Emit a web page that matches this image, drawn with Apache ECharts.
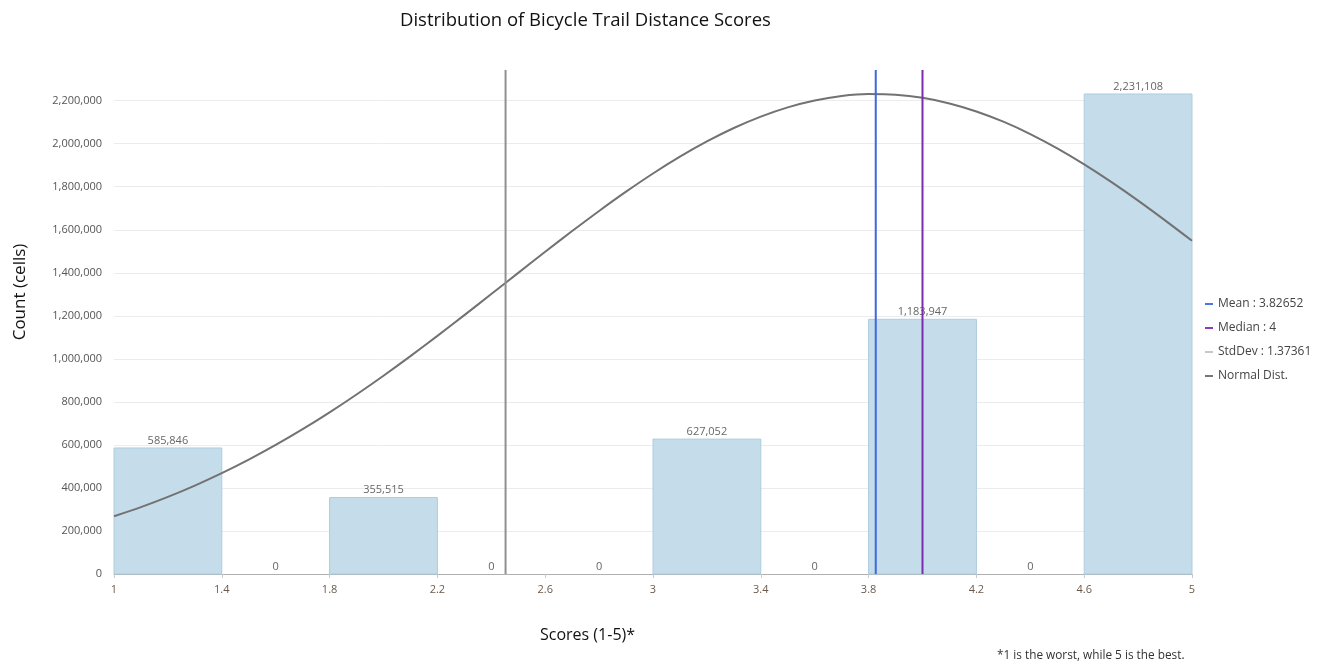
<!DOCTYPE html>
<html><head><meta charset="utf-8">
<script src="https://cdn.jsdelivr.net/npm/echarts@6/dist/echarts.min.js"></script>
<style>html,body{margin:0;padding:0;background:#fff}#c{width:1319px;height:664px}</style>
</head><body><div id="c"></div>
<script>
// Histogram bins (score ranges) and counts
const binStarts = [1.0, 1.4, 1.8, 2.2, 2.6, 3.0, 3.4, 3.8, 4.2, 4.6];
const binEnds   = [1.4, 1.8, 2.2, 2.6, 3.0, 3.4, 3.8, 4.2, 4.6, 5.0];
const counts    = [585846, 0, 355515, 0, 0, 627052, 0, 1183947, 0, 2231108];
// Summary statistics
const meanValue = 3.82652;
const medianValue = 4;
const stdDevValue = 1.37361;
const stdDevLineAt = 2.45291; // mean - stdDev, where the gray line is drawn
// Normal distribution curve
const curveX = [1.0, 1.1, 1.2, 1.3, 1.4, 1.5, 1.6, 1.7, 1.8, 1.9, 2.0, 2.1, 2.2, 2.3, 2.4, 2.5, 2.6, 2.7, 2.8, 2.9, 3.0,
                3.1, 3.2, 3.3, 3.4, 3.5, 3.6, 3.7, 3.8, 3.9, 4.0, 4.1, 4.2, 4.3, 4.4, 4.5, 4.6, 4.7, 4.8, 4.9, 5.0];
const curveY = [268600, 311100, 358600, 411100, 468700, 531600, 599800, 673100, 751400, 834400, 921700, 1012700, 1106800,
                1203300, 1301200, 1399600, 1497600, 1594000, 1687500, 1777100, 1861700, 1939900, 2010700, 2073100, 2126100,
                2169000, 2201000, 2221700, 2230700, 2227900, 2213400, 2187300, 2150100, 2102400, 2044900, 1978400, 1904000,
                1822700, 1735600, 1643900, 1548900];
// Axis ticks
const xTicks = ['1', '1.4', '1.8', '2.2', '2.6', '3', '3.4', '3.8', '4.2', '4.6', '5'];
const yMax = 2342663;

const X0 = 1, STEP = 0.4;
const toAx = s => (s - X0) / STEP;
const fmt = v => v.toLocaleString('en-US');
const FONT = '"Open Sans", "Noto Sans", sans-serif';

const chart = echarts.init(document.getElementById('c'), null, {renderer: 'canvas'});

const histData = binStarts.map((s, i) => [toAx(s), toAx(binEnds[i]), counts[i]]);
const vline = x => [[toAx(x), 0], [toAx(x), yMax]];

chart.setOption({
  animation: false,
  textStyle: {fontFamily: FONT},
  title: {
    text: 'Distribution of Bicycle Trail Distance Scores',
    left: 395, top: 6,
    textStyle: {fontSize: 18.5, fontWeight: 'normal', color: '#111', fontFamily: FONT}
  },
  grid: {left: 114, right: 127, top: 70, bottom: 90, containLabel: false},
  legend: {
    orient: 'vertical', left: 1200, top: 293, itemGap: 12,
    itemWidth: 8, itemHeight: 2,
    textStyle: {fontSize: 12, color: '#444', fontFamily: FONT},
    data: [
      {name: 'Mean : ' + meanValue, icon: 'rect', itemStyle: {color: '#4a78e0'}},
      {name: 'Median : ' + medianValue, icon: 'rect', itemStyle: {color: '#8a3cc0'}},
      {name: 'StdDev : ' + stdDevValue, icon: 'rect', itemStyle: {color: '#c8c8c8'}},
      {name: 'Normal Dist.', icon: 'rect', itemStyle: {color: '#777'}}
    ]
  },
  xAxis: {
    type: 'value', min: 0, max: 10, interval: 1,
    axisLine: {show: true, lineStyle: {color: '#b0b0b0', width: 1}},
    axisTick: {show: true, length: 4, lineStyle: {color: '#c8c8c8'}},
    splitLine: {show: false},
    axisLabel: {
      margin: 10, fontSize: 11, color: '#6b5a4c', fontFamily: FONT,
      formatter: v => xTicks[Math.round(v)] || ''
    }
  },
  yAxis: {
    type: 'value', min: 0, max: yMax, interval: 200000,
    axisLine: {show: false}, axisTick: {show: false},
    splitLine: {show: true, showMaxLine: false, lineStyle: {color: '#ececec', width: 1}},
    axisLabel: {
      margin: 12, fontSize: 11, color: '#555', fontFamily: FONT, showMaxLabel: false,
      formatter: v => (v % 200000 === 0 ? fmt(v) : '')
    }
  },
  graphic: [
    {type: 'text', x: 20, y: 292, rotation: Math.PI / 2,
     style: {text: 'Count (cells)', font: '17px ' + FONT, fill: '#111', align: 'center', verticalAlign: 'middle'}},
    {type: 'text', left: 540, top: 627,
     style: {text: 'Scores (1-5)*', font: '16px ' + FONT, fill: '#111'}},
    {type: 'text', left: 997, top: 650,
     style: {text: '*1 is the worst, while 5 is the best.', font: '11.8px ' + FONT, fill: '#333'}}
  ],
  series: [
    {
      type: 'custom', name: 'Histogram', z: 1,
      data: histData,
      encode: {x: [0, 1], y: 2},
      renderItem: (params, api) => {
        const a = api.value(0), b = api.value(1), v = api.value(2);
        const p0 = api.coord([a, v]), p1 = api.coord([b, 0]);
        const children = [];
        if (v > 0) {
          children.push({type: 'rect',
            shape: {x: p0[0], y: p0[1], width: p1[0] - p0[0], height: p1[1] - p0[1]},
            style: {fill: '#c5dcea', stroke: '#aecde0', lineWidth: 1}});
        }
        children.push({type: 'text',
          style: {text: fmt(v), x: (p0[0] + p1[0]) / 2, y: p0[1] - 2, align: 'center', verticalAlign: 'bottom',
                  fill: '#666', font: '11px ' + FONT}});
        return {type: 'group', children};
      }
    },
    {
      type: 'line', name: 'Normal Dist.', z: 3, smooth: 0.3, showSymbol: false,
      lineStyle: {color: '#727272', width: 2}, itemStyle: {color: '#727272'},
      data: curveX.map((x, i) => [toAx(x), curveY[i]])
    },
    {
      type: 'line', name: 'StdDev : ' + stdDevValue, z: 4, showSymbol: false,
      lineStyle: {color: '#909090', width: 2}, itemStyle: {color: '#c8c8c8'},
      data: vline(stdDevLineAt)
    },
    {
      type: 'line', name: 'Mean : ' + meanValue, z: 4, showSymbol: false,
      lineStyle: {color: '#3c68e0', width: 2}, itemStyle: {color: '#4a78e0'},
      data: vline(meanValue)
    },
    {
      type: 'line', name: 'Median : ' + medianValue, z: 4, showSymbol: false,
      lineStyle: {color: '#7b2cb0', width: 2}, itemStyle: {color: '#8a3cc0'},
      data: vline(medianValue)
    }
  ]
});
</script>
</body></html>
